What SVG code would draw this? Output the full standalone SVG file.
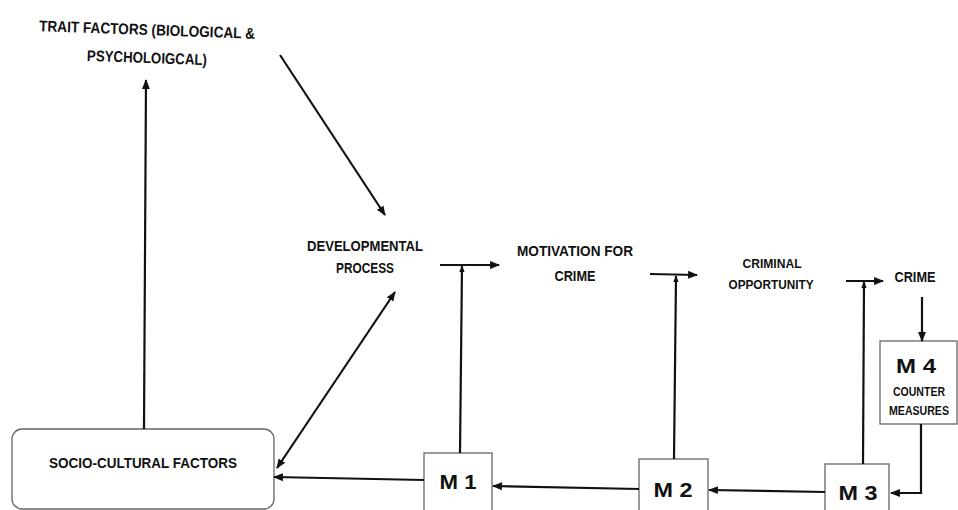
<svg xmlns="http://www.w3.org/2000/svg" width="958" height="510" viewBox="0 0 958 510">
<defs>
<marker id="ah" viewBox="0 0 10 10" refX="9" refY="5" markerWidth="4.5" markerHeight="4.5" orient="auto-start-reverse" markerUnits="strokeWidth">
<path d="M0,1 L10,5 L0,9 z" fill="#111"/>
</marker>
<marker id="ahs" viewBox="0 0 10 10" refX="9" refY="5" markerWidth="3" markerHeight="3" orient="auto" markerUnits="strokeWidth">
<path d="M0,1 L10,5 L0,9 z" fill="#111"/>
</marker>
</defs>
<style>
text{font-family:"Liberation Sans",Arial,sans-serif;font-weight:bold;fill:#111;text-anchor:middle}
.l{font-size:15.5px}
.s{font-size:13px}
.t{font-size:12px}
.m{font-size:20px}
.box{fill:#fff;stroke:#666;stroke-width:1.3}
.c{fill:none;stroke:#111;stroke-width:2.2}
.h{marker-end:url(#ah)}
</style>
<rect width="958" height="510" fill="#fff"/>
<g id="trait">
<text class="l" x="147" y="35" textLength="216" lengthAdjust="spacingAndGlyphs" transform="rotate(2 147 30)">TRAIT FACTORS (BIOLOGICAL &amp;</text>
<text class="l" x="147" y="63" textLength="120" lengthAdjust="spacingAndGlyphs" transform="rotate(2 147 57)">PSYCHOLOIGCAL)</text>
</g>
<g id="developmental">
<text class="l" x="365" y="251" textLength="116" lengthAdjust="spacingAndGlyphs">DEVELOPMENTAL</text>
<text class="l" x="365" y="273" textLength="58" lengthAdjust="spacingAndGlyphs">PROCESS</text>
</g>
<g id="motivation">
<text class="l" x="575" y="256" textLength="116" lengthAdjust="spacingAndGlyphs">MOTIVATION FOR</text>
<text class="l" x="575" y="281" textLength="41" lengthAdjust="spacingAndGlyphs">CRIME</text>
</g>
<g id="opportunity">
<text class="s" x="772" y="268" textLength="59" lengthAdjust="spacingAndGlyphs">CRIMINAL</text>
<text class="s" x="771" y="289" textLength="85" lengthAdjust="spacingAndGlyphs">OPPORTUNITY</text>
</g>
<g id="crime">
<text class="l" x="915" y="282" textLength="41" lengthAdjust="spacingAndGlyphs">CRIME</text>
</g>
<g id="m4">
<rect class="box" x="880" y="341" width="77" height="83"/>
<text class="m" x="916" y="373" textLength="40" lengthAdjust="spacingAndGlyphs">M 4</text>
<text class="t" x="919" y="396" textLength="52" lengthAdjust="spacingAndGlyphs">COUNTER</text>
<text class="t" x="919" y="415" textLength="60" lengthAdjust="spacingAndGlyphs">MEASURES</text>
</g>
<g id="socio">
<rect class="box" x="12" y="429" width="262" height="80" rx="10"/>
<text class="l" x="143" y="468" textLength="188" lengthAdjust="spacingAndGlyphs">SOCIO-CULTURAL FACTORS</text>
</g>
<g id="m1">
<rect class="box" x="424" y="453" width="68" height="62"/>
<text class="m" x="458" y="489" textLength="37" lengthAdjust="spacingAndGlyphs">M 1</text>
</g>
<g id="m2">
<rect class="box" x="639" y="459" width="69" height="56"/>
<text class="m" x="673" y="497" textLength="39" lengthAdjust="spacingAndGlyphs">M 2</text>
</g>
<g id="m3">
<rect class="box" x="825" y="464" width="64" height="51"/>
<text class="m" x="858" y="500" textLength="39" lengthAdjust="spacingAndGlyphs">M 3</text>
</g>
<g id="connectors">
<line class="c h" x1="144" y1="429" x2="146" y2="80"/>
<line class="c h" x1="280" y1="55" x2="385" y2="215"/>
<line class="c h" x1="336" y1="380" x2="395" y2="292"/>
<line class="c h" x1="336" y1="380" x2="277" y2="468"/>
<line class="c h" x1="440" y1="265" x2="499" y2="265"/>
<line class="c" x1="460" y1="453" x2="462" y2="266" marker-end="url(#ahs)"/>
<line class="c h" x1="650" y1="274" x2="697" y2="275"/>
<line class="c" x1="674" y1="459" x2="676" y2="276" marker-end="url(#ahs)"/>
<line class="c h" x1="846" y1="281" x2="883" y2="281"/>
<line class="c" x1="863" y1="464" x2="864" y2="282" marker-end="url(#ahs)"/>
<line class="c h" x1="922" y1="297" x2="922" y2="341"/>
<polyline class="c h" points="921,424 921,493 891,493"/>
<line class="c h" x1="825" y1="492" x2="709" y2="490"/>
<line class="c h" x1="639" y1="489" x2="493" y2="486"/>
<line class="c h" x1="424" y1="480" x2="274" y2="477"/>
</g>
</svg>
